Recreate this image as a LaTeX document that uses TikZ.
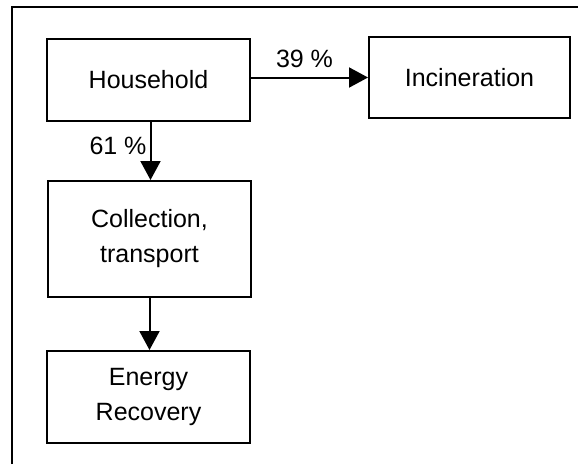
\documentclass[tikz,border=0pt]{standalone}
\usepackage{fontspec}
\setmainfont{Liberation Sans}
\usetikzlibrary{arrows.meta}
\tikzset{
  box/.style={draw, line width=2pt, minimum width=203pt, align=center, inner sep=0pt,
    font=\fontsize{25}{35}\selectfont},
  flow/.style={line width=2pt, -{Triangle[length=19pt, width=20pt]}},
  lbl/.style={font=\fontsize{25}{30}\selectfont, inner sep=0pt}
}
\begin{document}
\begin{tikzpicture}[x=1pt,y=-1pt]
  \useasboundingbox (0,0) rectangle (578,464);
  % frame
  \draw[line width=2pt] (12,464) -- (12,7) -- (578,7);

  \node[box, minimum height=82pt] (household) at (148.5,80) {Household};
  \node[box, minimum width=201pt, minimum height=81pt] (incineration) at (469.5,77.5) {Incineration};
  \node[box, minimum height=116pt] (collection) at (149.5,239) {Collection,\\transport};
  \node[box, minimum height=92pt] (energy) at (148.5,397) {Energy\\Recovery};

  \draw[flow] (household.east |- incineration.west) -- node[lbl, above=9pt, xshift=-5pt] (share39) {39 \%} (incineration.west);
  \draw[flow] ([xshift=2pt]household.south) -- node[lbl, anchor=east, pos=0.42, xshift=-3pt] (share61) {61 \%} ([xshift=2pt]household.south |- collection.north);
  \draw[flow] (collection.south) -- (collection.south |- energy.north);
\end{tikzpicture}
\end{document}
